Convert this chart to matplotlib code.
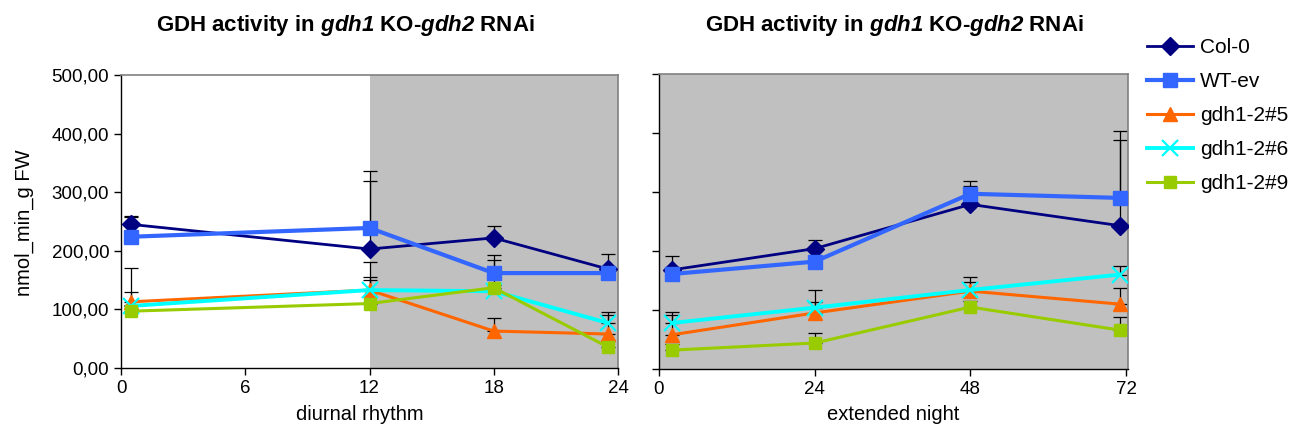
import matplotlib
matplotlib.use("Agg")
import matplotlib.pyplot as plt
import numpy as np

plt.rcParams['font.family'] = ['Liberation Sans', 'DejaVu Sans']
plt.rcParams['mathtext.fontset'] = 'custom'
plt.rcParams['mathtext.rm'] = 'Liberation Sans:bold:italic'
plt.rcParams['mathtext.it'] = 'Liberation Sans:bold:italic'

# ---- data ----
series = ["Col-0", "WT-ev", "gdh1-2#5", "gdh1-2#6", "gdh1-2#9"]

x_diurnal = [0.5, 12, 18, 23.5]
diurnal_col0 = [245, 203, 222, 169]
diurnal_wtev = [224, 239, 162, 162]
diurnal_g5 = [113, 133, 63, 58]
diurnal_g6 = [106, 133, 131, 77]
diurnal_g9 = [97, 110, 137, 36]
diurnal_err_col0 = [14, 116, 20, 25]
diurnal_err_wtev = [33, 97, 31, 4]
diurnal_err_g5 = [57, 48, 22, 32]
diurnal_err_g6 = [24, 22, 10, 19]
diurnal_err_g9 = [10, 40, 47, 10]

x_night = [2, 24, 48, 71]
night_col0 = [168, 204, 279, 243]
night_wtev = [161, 182, 297, 290]
night_g5 = [58, 95, 132, 110]
night_g6 = [78, 104, 134, 160]
night_g9 = [32, 44, 105, 66]
night_err_col0 = [24, 15, 31, 145]
night_err_wtev = [12, 5, 22, 113]
night_err_g5 = [34, 19, 16, 28]
night_err_g6 = [19, 30, 22, 15]
night_err_g9 = [10, 17, 10, 22]

y_ticks = [0, 100, 200, 300, 400, 500]
y_tick_labels = ["0,00", "100,00", "200,00", "300,00", "400,00", "500,00"]
x_ticks_diurnal = [0, 6, 12, 18, 24]
x_ticks_night = [0, 24, 48, 72]

# ---- styles ----
colors = ["#000080", "#3366FF", "#FF6600", "#00FFFF", "#99CC00"]
markers = ["D", "s", "^", "x", "s"]
msizes = [9, 10, 10, 11, 9]
lwidths = [2.0, 3.0, 2.2, 2.8, 2.2]
mews = [1, 1, 1, 1.6, 1]

fig = plt.figure(figsize=(12.9, 4.34), dpi=100)
ax1 = fig.add_axes([121/1290, 66/434, 497/1290, 293/434])
ax2 = fig.add_axes([659/1290, 65/434, 469/1290, 295/434])

gray = "#C0C0C0"
ax1.axvspan(12, 24, color=gray, zorder=0, lw=0)
ax2.set_facecolor(gray)

diurnal = [diurnal_col0, diurnal_wtev, diurnal_g5, diurnal_g6, diurnal_g9]
diurnal_err = [diurnal_err_col0, diurnal_err_wtev, diurnal_err_g5, diurnal_err_g6, diurnal_err_g9]
night = [night_col0, night_wtev, night_g5, night_g6, night_g9]
night_err = [night_err_col0, night_err_wtev, night_err_g5, night_err_g6, night_err_g9]

handles = []
for ax, xs, ys_all, es_all in [(ax1, x_diurnal, diurnal, diurnal_err),
                               (ax2, x_night, night, night_err)]:
    for i, (ys, es) in enumerate(zip(ys_all, es_all)):
        ax.errorbar(xs, ys, yerr=[np.zeros(len(es)), es], fmt='none',
                    ecolor='black', elinewidth=0.9, capsize=5, capthick=0.9, zorder=2)
        h, = ax.plot(xs, ys, color=colors[i], marker=markers[i], ms=msizes[i],
                     lw=lwidths[i], mew=mews[i], mec=colors[i], mfc=colors[i],
                     zorder=3 + i, label=series[i])
        if ax is ax1:
            handles.append(h)

for ax in (ax1, ax2):
    ax.set_ylim(0, 500)
    ax.set_yticks(y_ticks)
    for s in ("top", "right"):
        ax.spines[s].set_color("#808080")
        ax.spines[s].set_linewidth(1.2)
    for s in ("left", "bottom"):
        ax.spines[s].set_color("#000000")
        ax.spines[s].set_linewidth(1.0)
    ax.tick_params(direction='out', length=5, width=1, labelsize=13.5, colors='black')

ax1.set_xlim(0, 24)
ax1.set_xticks(x_ticks_diurnal)
ax1.set_yticklabels(y_tick_labels)
ax2.set_xlim(0, 72.3)
ax2.set_xticks(x_ticks_night)
ax2.set_yticklabels([])

title = r"GDH activity in $\mathrm{gdh1}$ KO-$\mathrm{gdh2}$ RNAi"
fig.text(345/1290, 1 - 25/434, title, ha='center', va='center', fontsize=16, fontweight='bold')
fig.text(894/1290, 1 - 25/434, title, ha='center', va='center', fontsize=16, fontweight='bold')

fig.text(24/1290, 1 - 223/434, "nmol_min_g FW", rotation=90, ha='center', va='center', fontsize=14.5)
fig.text(360/1290, 1 - 415/434, "diurnal rhythm", ha='center', va='center', fontsize=14.5)
fig.text(893/1290, 1 - 415/434, "extended night", ha='center', va='center', fontsize=14.5)

fig.legend(handles=handles, loc='upper left', bbox_to_anchor=(1147/1290, 1 - 38/434),
           frameon=False, fontsize=15, handlelength=2.2, labelspacing=0.72,
           handletextpad=0.35, borderaxespad=0, borderpad=0)

fig.savefig("out.png", dpi=100)
